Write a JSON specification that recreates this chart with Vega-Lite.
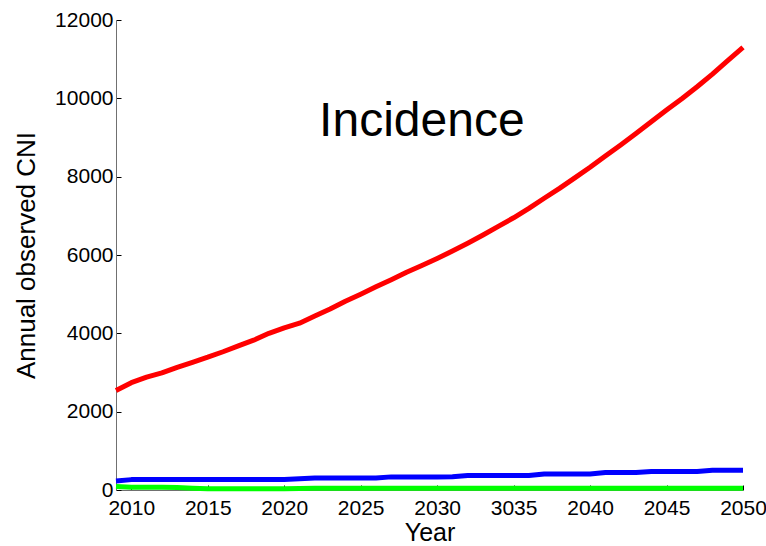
{
  "$schema": "https://vega.github.io/schema/vega-lite/v6.json",
  "width": 627,
  "height": 470,
  "autosize": "none",
  "padding": {"left": 116, "top": 20, "right": 23, "bottom": 56},
  "background": "white",
  "config": {
    "view": {"stroke": null},
    "font": "Liberation Sans"
  },
  "datasets": {
    "series": [
      {"year": 2009, "series": "red", "value": 2540},
      {"year": 2010, "series": "red", "value": 2740},
      {"year": 2011, "series": "red", "value": 2880},
      {"year": 2012, "series": "red", "value": 2990},
      {"year": 2013, "series": "red", "value": 3130},
      {"year": 2014, "series": "red", "value": 3260},
      {"year": 2015, "series": "red", "value": 3390},
      {"year": 2016, "series": "red", "value": 3530},
      {"year": 2017, "series": "red", "value": 3680},
      {"year": 2018, "series": "red", "value": 3825},
      {"year": 2019, "series": "red", "value": 4000},
      {"year": 2020, "series": "red", "value": 4140},
      {"year": 2021, "series": "red", "value": 4260},
      {"year": 2022, "series": "red", "value": 4440},
      {"year": 2023, "series": "red", "value": 4620},
      {"year": 2024, "series": "red", "value": 4820},
      {"year": 2025, "series": "red", "value": 5000},
      {"year": 2026, "series": "red", "value": 5190},
      {"year": 2027, "series": "red", "value": 5370},
      {"year": 2028, "series": "red", "value": 5560},
      {"year": 2029, "series": "red", "value": 5730},
      {"year": 2030, "series": "red", "value": 5910},
      {"year": 2031, "series": "red", "value": 6100},
      {"year": 2032, "series": "red", "value": 6300},
      {"year": 2033, "series": "red", "value": 6510},
      {"year": 2034, "series": "red", "value": 6730},
      {"year": 2035, "series": "red", "value": 6950},
      {"year": 2036, "series": "red", "value": 7190},
      {"year": 2037, "series": "red", "value": 7450},
      {"year": 2038, "series": "red", "value": 7700},
      {"year": 2039, "series": "red", "value": 7970},
      {"year": 2040, "series": "red", "value": 8240},
      {"year": 2041, "series": "red", "value": 8530},
      {"year": 2042, "series": "red", "value": 8810},
      {"year": 2043, "series": "red", "value": 9100},
      {"year": 2044, "series": "red", "value": 9400},
      {"year": 2045, "series": "red", "value": 9700},
      {"year": 2046, "series": "red", "value": 9990},
      {"year": 2047, "series": "red", "value": 10296},
      {"year": 2048, "series": "red", "value": 10620},
      {"year": 2049, "series": "red", "value": 10960},
      {"year": 2050, "series": "red", "value": 11300},
      {"year": 2009, "series": "blue", "value": 230},
      {"year": 2010, "series": "blue", "value": 265},
      {"year": 2011, "series": "blue", "value": 265},
      {"year": 2012, "series": "blue", "value": 265},
      {"year": 2013, "series": "blue", "value": 265},
      {"year": 2014, "series": "blue", "value": 265},
      {"year": 2015, "series": "blue", "value": 265},
      {"year": 2016, "series": "blue", "value": 265},
      {"year": 2017, "series": "blue", "value": 265},
      {"year": 2018, "series": "blue", "value": 265},
      {"year": 2019, "series": "blue", "value": 265},
      {"year": 2020, "series": "blue", "value": 265},
      {"year": 2021, "series": "blue", "value": 285},
      {"year": 2022, "series": "blue", "value": 305},
      {"year": 2023, "series": "blue", "value": 305},
      {"year": 2024, "series": "blue", "value": 305},
      {"year": 2025, "series": "blue", "value": 305},
      {"year": 2026, "series": "blue", "value": 305},
      {"year": 2027, "series": "blue", "value": 335},
      {"year": 2028, "series": "blue", "value": 335},
      {"year": 2029, "series": "blue", "value": 335},
      {"year": 2030, "series": "blue", "value": 335},
      {"year": 2031, "series": "blue", "value": 340},
      {"year": 2032, "series": "blue", "value": 370},
      {"year": 2033, "series": "blue", "value": 370},
      {"year": 2034, "series": "blue", "value": 370},
      {"year": 2035, "series": "blue", "value": 370},
      {"year": 2036, "series": "blue", "value": 370},
      {"year": 2037, "series": "blue", "value": 410},
      {"year": 2038, "series": "blue", "value": 410},
      {"year": 2039, "series": "blue", "value": 410},
      {"year": 2040, "series": "blue", "value": 410},
      {"year": 2041, "series": "blue", "value": 445},
      {"year": 2042, "series": "blue", "value": 445},
      {"year": 2043, "series": "blue", "value": 445},
      {"year": 2044, "series": "blue", "value": 475},
      {"year": 2045, "series": "blue", "value": 475},
      {"year": 2046, "series": "blue", "value": 475},
      {"year": 2047, "series": "blue", "value": 475},
      {"year": 2048, "series": "blue", "value": 505},
      {"year": 2049, "series": "blue", "value": 505},
      {"year": 2050, "series": "blue", "value": 505},
      {"year": 2009, "series": "green", "value": 90},
      {"year": 2010, "series": "green", "value": 72},
      {"year": 2011, "series": "green", "value": 68},
      {"year": 2012, "series": "green", "value": 68},
      {"year": 2013, "series": "green", "value": 65},
      {"year": 2014, "series": "green", "value": 45},
      {"year": 2015, "series": "green", "value": 32},
      {"year": 2016, "series": "green", "value": 30},
      {"year": 2017, "series": "green", "value": 30},
      {"year": 2018, "series": "green", "value": 30},
      {"year": 2019, "series": "green", "value": 30},
      {"year": 2020, "series": "green", "value": 32},
      {"year": 2021, "series": "green", "value": 40},
      {"year": 2022, "series": "green", "value": 45},
      {"year": 2023, "series": "green", "value": 45},
      {"year": 2024, "series": "green", "value": 45},
      {"year": 2025, "series": "green", "value": 45},
      {"year": 2026, "series": "green", "value": 45},
      {"year": 2027, "series": "green", "value": 45},
      {"year": 2028, "series": "green", "value": 45},
      {"year": 2029, "series": "green", "value": 45},
      {"year": 2030, "series": "green", "value": 45},
      {"year": 2031, "series": "green", "value": 45},
      {"year": 2032, "series": "green", "value": 45},
      {"year": 2033, "series": "green", "value": 45},
      {"year": 2034, "series": "green", "value": 45},
      {"year": 2035, "series": "green", "value": 45},
      {"year": 2036, "series": "green", "value": 45},
      {"year": 2037, "series": "green", "value": 45},
      {"year": 2038, "series": "green", "value": 45},
      {"year": 2039, "series": "green", "value": 45},
      {"year": 2040, "series": "green", "value": 45},
      {"year": 2041, "series": "green", "value": 45},
      {"year": 2042, "series": "green", "value": 45},
      {"year": 2043, "series": "green", "value": 45},
      {"year": 2044, "series": "green", "value": 45},
      {"year": 2045, "series": "green", "value": 45},
      {"year": 2046, "series": "green", "value": 45},
      {"year": 2047, "series": "green", "value": 45},
      {"year": 2048, "series": "green", "value": 45},
      {"year": 2049, "series": "green", "value": 45},
      {"year": 2050, "series": "green", "value": 45}
    ],
    "annotation": [
      {"year": 2029, "value": 9035, "label": "Incidence"}
    ]
  },
  "layer": [
    {
      "data": {"name": "series"},
      "mark": {"type": "line", "strokeWidth": 5, "strokeCap": "butt", "strokeJoin": "round"},
      "encoding": {
        "x": {
          "field": "year",
          "type": "quantitative",
          "scale": {"domain": [2009, 2050], "nice": false, "zero": false},
          "axis": {
            "title": "Year",
            "values": [2010, 2015, 2020, 2025, 2030, 2035, 2040, 2045, 2050],
            "format": "d",
            "labelExpr": "datum.value == 2035 ? '3035' : datum.label",
            "grid": false,
            "domainColor": "#707070",
            "domainWidth": 1,
            "tickColor": "#000000",
            "tickSize": -5,
            "tickWidth": 1,
            "labelFont": "Liberation Sans",
            "labelFontSize": 21,
            "labelColor": "#000000",
            "labelPadding": 12,
            "labelOverlap": false,
            "labelFlush": false,
            "titleFont": "Liberation Sans",
            "titleFontSize": 25,
            "titleFontWeight": "normal",
            "titleColor": "#000000",
            "titlePadding": 2
          }
        },
        "y": {
          "field": "value",
          "type": "quantitative",
          "scale": {"domain": [0, 12000], "nice": false},
          "axis": {
            "title": "Annual observed CNI",
            "values": [0, 2000, 4000, 6000, 8000, 10000, 12000],
            "format": "d",
            "grid": false,
            "domainColor": "#707070",
            "domainWidth": 1,
            "tickColor": "#000000",
            "tickSize": -5,
            "tickWidth": 1,
            "labelFont": "Liberation Sans",
            "labelFontSize": 21,
            "labelColor": "#000000",
            "labelPadding": 8,
            "labelOverlap": false,
            "labelFlush": false,
            "titleFont": "Liberation Sans",
            "titleFontSize": 26,
            "titleFontWeight": "normal",
            "titleColor": "#000000",
            "titlePadding": 15
          }
        },
        "color": {
          "field": "series",
          "type": "nominal",
          "scale": {"domain": ["red", "blue", "green"], "range": ["#ff0000", "#0000ff", "#00ff00"]},
          "legend": null
        },
        "order": {"field": "year", "type": "quantitative"}
      }
    },
    {
      "data": {"name": "annotation"},
      "mark": {"type": "text", "font": "Liberation Sans", "fontSize": 48, "align": "center", "baseline": "alphabetic", "color": "#000000"},
      "encoding": {
        "x": {"field": "year", "type": "quantitative"},
        "y": {"field": "value", "type": "quantitative"},
        "text": {"field": "label"}
      }
    }
  ]
}
